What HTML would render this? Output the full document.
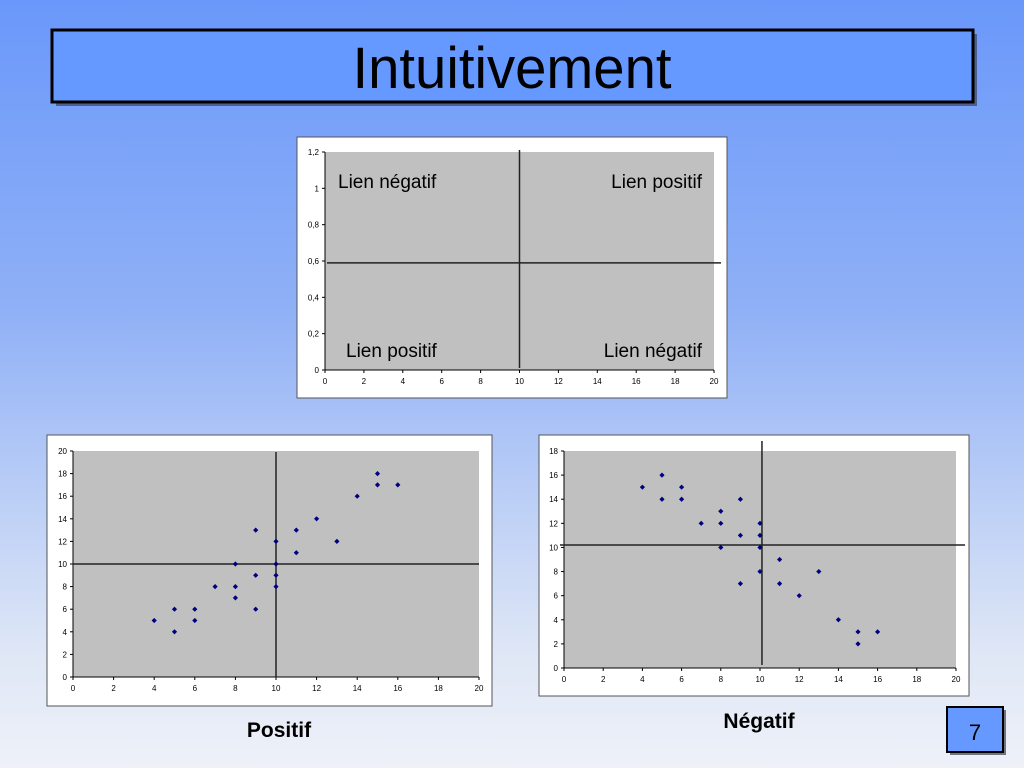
<!DOCTYPE html>
<html><head><meta charset="utf-8"><style>
html,body{margin:0;padding:0;}
body{width:1024px;height:768px;overflow:hidden;background:linear-gradient(#6a98fa 0%,#8fb0f6 40%,#dfe7f6 85%,#eef1f8 100%);font-family:"Liberation Sans",sans-serif;}
svg{position:absolute;left:0;top:0;}
</style></head><body>
<svg id="s" width="1024" height="768" xmlns="http://www.w3.org/2000/svg" font-family="Liberation Sans, sans-serif">
<g>
<rect x="56" y="34" width="921" height="72" fill="#334" opacity="0.6"/>
<rect x="52" y="30" width="921" height="72" fill="#6699ff" stroke="#000" stroke-width="3"/>
<text x="512" y="88" text-anchor="middle" font-size="58" textLength="319" lengthAdjust="spacingAndGlyphs">Intuitivement</text>
</g>
<g id="top"></g>
<g id="left"></g>
<g id="right"></g>
<text x="279" y="737" text-anchor="middle" font-size="21" font-weight="bold">Positif</text>
<text x="759" y="728" text-anchor="middle" font-size="21" font-weight="bold">Négatif</text>
<g>
<rect x="950" y="710" width="56" height="45" fill="#223" opacity="0.6"/>
<rect x="947" y="707" width="56" height="45" fill="#6699ff" stroke="#000" stroke-width="2"/>
<text x="975" y="740" text-anchor="middle" font-size="22">7</text>
</g>
</svg>
<script>
const NS="http://www.w3.org/2000/svg";
// Top chart data
const topXTicks=[0,2,4,6,8,10,12,14,16,18,20];
const topYTicks=[0,0.2,0.4,0.6,0.8,1,1.2];
const topYLabels=["0","0,2","0,4","0,6","0,8","1","1,2"];
const topVLine=[10];
const topHLine=[0.59];
// Positive chart data
const posX=[4,5,5,6,6,7,8,8,8,9,9,9,10,10,10,10,11,11,12,13,14,15,15,16];
const posY=[5,6,4,6,5,8,10,8,7,13,9,6,12,10,9,8,13,11,14,12,16,18,17,17];
const posXTicks=[0,2,4,6,8,10,12,14,16,18,20];
const posYTicks=[0,2,4,6,8,10,12,14,16,18,20];
// Negative chart data
const negX=[4,5,5,6,6,7,8,8,8,9,9,9,10,10,10,10,11,11,12,13,14,15,15,16];
const negY=[15,16,14,15,14,12,13,12,10,14,11,7,12,11,10,8,9,7,6,8,4,3,2,3];
const negXTicks=[0,2,4,6,8,10,12,14,16,18,20];
const negYTicks=[0,2,4,6,8,10,12,14,16,18];

function el(parent,tag,attrs){const e=document.createElementNS(NS,tag);for(const k in attrs)e.setAttribute(k,attrs[k]);parent.appendChild(e);return e;}

function chart(g,cfg){
  const sx=v=>cfg.x0+(v-cfg.xmin)/(cfg.xmax-cfg.xmin)*(cfg.x1-cfg.x0);
  const sy=v=>cfg.y0-(v-cfg.ymin)/(cfg.ymax-cfg.ymin)*(cfg.y0-cfg.y1);
  const fr=el(g,'rect',{x:cfg.fx,y:cfg.fy,width:cfg.fw,height:cfg.fh,fill:'#fff',stroke:'#555','stroke-width':1});
  
  
  const pa=el(g,'rect',{x:cfg.x0,y:cfg.y1,width:cfg.x1-cfg.x0,height:cfg.y0-cfg.y1,fill:'#c0c0c0'});
  
  
  const ax=el(g,'path',{d:`M${cfg.x0} ${cfg.y1}V${cfg.y0}H${cfg.x1}`,stroke:'#000',fill:'none','stroke-width':1});
  
  
  cfg.xt.forEach(v=>{
    el(g,'line',{x1:sx(v),x2:sx(v),y1:cfg.y0,y2:cfg.y0+3,stroke:'#000'});
    const t=el(g,'text',{x:sx(v),y:cfg.y0+14,'font-size':8,'text-anchor':'middle'});t.textContent=v;
    
    
  });
  cfg.yt.forEach((v,i)=>{
    el(g,'line',{x1:cfg.x0-3,x2:cfg.x0,y1:sy(v),y2:sy(v),stroke:'#000'});
    const t=el(g,'text',{x:cfg.x0-6,y:sy(v)+3,'font-size':8,'text-anchor':'end'});t.textContent=cfg.yl?cfg.yl[i]:v;
    
    
  });
  const vl=el(g,'line',{x1:sx(cfg.vx),x2:sx(cfg.vx),y1:cfg.vy1,y2:cfg.vy2,stroke:'#222','stroke-width':1.5});
  
  
  const hl=el(g,'line',{x1:cfg.hx1,x2:cfg.hx2,y1:sy(cfg.hy),y2:sy(cfg.hy),stroke:'#222','stroke-width':1.5});
  
  
  if(cfg.px){cfg.px.forEach((x,i)=>{
    const cx=sx(x),cy=sy(cfg.py[i]);
    const p=el(g,'path',{d:`M${cx} ${cy-2.6}L${cx+2.6} ${cy}L${cx} ${cy+2.6}L${cx-2.6} ${cy}Z`,fill:'#000080'});
    
    
  });}
}

chart(document.getElementById('top'),{fx:297,fy:137,fw:430,fh:261,x0:325,x1:714,y0:370,y1:152,xmin:0,xmax:20,ymin:0,ymax:1.2,
  xt:topXTicks,yt:topYTicks,yl:topYLabels,vx:topVLine[0],vy1:150,vy2:368,hy:topHLine[0],hx1:327,hx2:721});
const tg=document.getElementById('top');
[["Lien négatif",338,188,"start"],["Lien positif",702,188,"end"],["Lien positif",346,357,"start"],["Lien négatif",702,357,"end"]].forEach(a=>{
  const t=el(tg,'text',{x:a[1],y:a[2],'font-size':19,'text-anchor':a[3]});
  t.textContent=a[0];
  
  
});

chart(document.getElementById('left'),{fx:47,fy:435,fw:445,fh:271,x0:73,x1:479,y0:677,y1:451,xmin:0,xmax:20,ymin:0,ymax:20,
  xt:posXTicks,yt:posYTicks,vx:10,vy1:452,vy2:677,hy:10,hx1:73,hx2:479,px:posX,py:posY});
chart(document.getElementById('right'),{fx:539,fy:435,fw:430,fh:261,x0:564,x1:956,y0:668,y1:451,xmin:0,xmax:18*20/18,ymin:0,ymax:18,
  xt:negXTicks,yt:negYTicks,vx:10.1,vy1:441,vy2:665,hy:10.2,hx1:560,hx2:965,px:negX,py:negY});
</script>
</body></html>
